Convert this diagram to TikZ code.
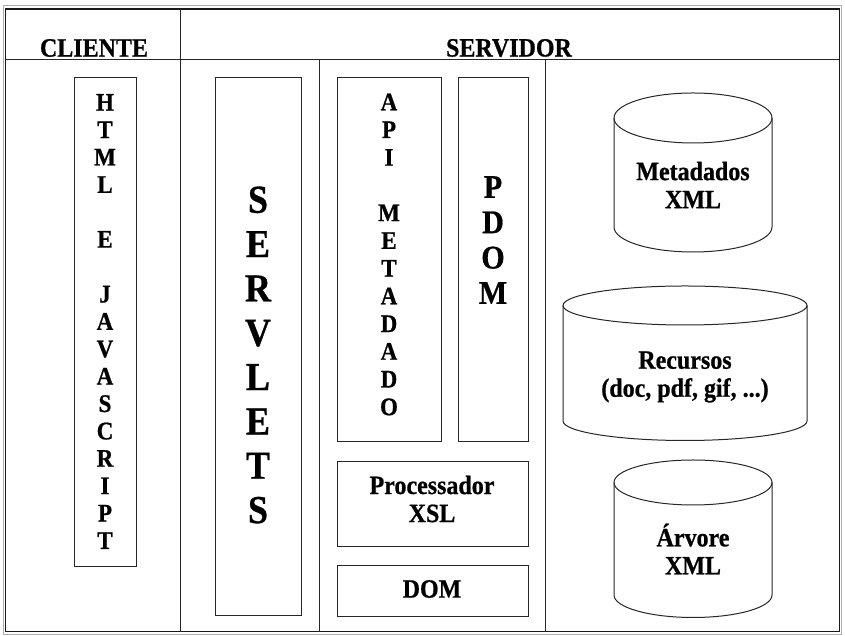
\documentclass[tikz,border=0pt]{standalone}
\usepackage{fontspec}
\setmainfont{Liberation Serif}[BoldFeatures={FakeBold=0.8}]
\begin{document}
\begin{tikzpicture}[x=1pt,y=1pt,line width=1pt,
  every node/.style={inner sep=0pt, align=center},
  label text/.style={yscale=1.1, transform shape, font=\bfseries\fontsize{24}{25.5}\selectfont},
  box/.style={draw=black!85, rectangle},
  stack/.style={label text, font=\bfseries\fontsize{23}{24.9}\selectfont},
  rule/.style={draw=black!85, line width=1pt}]
\useasboundingbox (0,0) rectangle (845,636);

% double outer frame
\draw[gray!65, line width=0.8pt] (3.3,2) rectangle (841.7,631);
\draw[black!90, line width=1.1pt] (5.7,4.3) rectangle (839.3,627);

% column dividers
\coordinate (hl) at (5.7,576);   \coordinate (hr) at (839.3,576);
\coordinate (v1t) at (180,627);  \coordinate (v1b) at (180,4.3);
\coordinate (v2t) at (319,576);  \coordinate (v2b) at (319,4.3);
\coordinate (v3t) at (545,576);  \coordinate (v3b) at (545,4.3);
\draw[rule] (hl) -- (hr);
\draw[rule] (v1t) -- (v1b);
\draw[rule] (v2t) -- (v2b);
\draw[rule] (v3t) -- (v3b);

% headings
\node[label text] (cliente) at (94,588) {CLIENTE};
\node[label text] (servidor) at (509,588) {SERVIDOR};

% client column
\node[box, minimum width=62pt, minimum height=489pt] (htmlbox) at (105,313.5) {};
\node[stack] (htmltxt) at (105,314.5) {H\\T\\M\\L\\\mbox{}\\E\\\mbox{}\\J\\A\\V\\A\\S\\C\\R\\I\\P\\T};

% servlets
\node[box, minimum width=86pt, minimum height=538pt] (servbox) at (258,289) {};
\node[label text, font=\bfseries\fontsize{36}{40.3}\selectfont] (servtxt) at (258,281) {S\\E\\R\\V\\L\\E\\T\\S};

% API / PDOM / XSL / DOM
\node[box, minimum width=104pt, minimum height=364pt] (apibox) at (389,376) {};
\node[stack, font=\bfseries\fontsize{23}{25.2}\selectfont] (apitxt) at (389,381.5) {A\\P\\I\\\mbox{}\\M\\E\\T\\A\\D\\A\\D\\O};

\node[box, minimum width=70pt, minimum height=364pt] (pdombox) at (493,376) {};
\node[label text, font=\bfseries\fontsize{30}{32.1}\selectfont] (pdomtxt) at (493,396) {P\\D\\O\\M};

\node[box, minimum width=191pt, minimum height=85pt] (xslbox) at (432.5,131.5) {};
\node[label text] (xsltxt) at (432,137) {Processador\\XSL};

\node[box, minimum width=191pt, minimum height=51pt] (dombox) at (432.5,44.5) {};
\node[label text] (domtxt) at (432,47) {DOM};

% data stores
\newcommand\storecyl[5]{% cx, top-y, bottom-y, rx, ry
  \draw[black!85] (#1-#4,#2) -- (#1-#4,#3)
    arc[start angle=180,end angle=360,x radius=#4,y radius=#5] -- (#1+#4,#2);
  \draw[black!85] (#1,#2) ellipse[x radius=#4,y radius=#5];}

\storecyl{693}{518}{409}{79}{25}
\node[label text] (meta) at (693,451) {Metadados\\XML};

\storecyl{685}{330.5}{215}{122}{19.5}
\node[label text] (rec) at (685,259) {Recursos\\(doc, pdf, gif, ...)};

\storecyl{693}{153.5}{41}{79}{22.5}
\node[label text] (arv) at (693,87) {Árvore\\XML};
\end{tikzpicture}
\end{document}
